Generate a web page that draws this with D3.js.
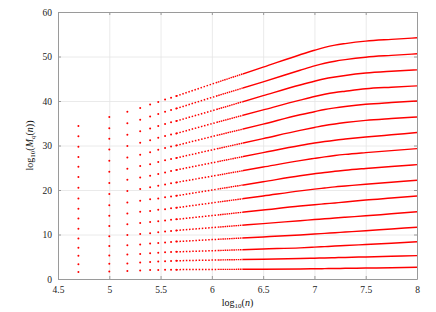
<!DOCTYPE html>
<html>
<head>
<meta charset="utf-8">
<script src="https://cdn.jsdelivr.net/npm/d3@7/dist/d3.min.js"></script>
<style>
  body { margin: 0; background: #fff; }
  text { font-family: "Liberation Serif", "DejaVu Serif", serif; }
</style>
</head>
<body>
<div id="chart-area"></div>
<script>
// tick labels
const xTicks = [4.5, 5, 5.5, 6, 6.5, 7, 7.5, 8];
const yTicks = [0, 10, 20, 30, 40, 50, 60];

// sparse samples (n), drawn as separate dots
const sampleN = [50000, 100000, 150000, 200000, 250000, 300000, 350000, 400000, 450000];

// log10(M_q(n)) at each sampled n, one row per curve (bottom to top)
const dotValues = [
    [1.6, 1.7, 1.8, 1.9, 2.0, 2.0, 2.1, 2.1, 2.1],
    [3.3, 3.4, 3.5, 3.7, 3.8, 3.95, 4.0, 4.05, 4.1],
    [5.2, 5.3, 5.5, 5.6, 5.8, 5.9, 6.0, 6.05, 6.1],
    [7.0, 7.4, 7.6, 7.75, 7.95, 8.1, 8.2, 8.3, 8.4],
    [9.1, 9.6, 9.9, 10.1, 10.3, 10.5, 10.65, 10.8, 10.9],
    [11.3, 11.9, 12.3, 12.6, 12.8, 13.0, 13.15, 13.3, 13.4],
    [13.6, 14.2, 14.7, 15.1, 15.3, 15.55, 15.7, 15.9, 16.0],
    [15.8, 16.6, 17.2, 17.6, 17.9, 18.1, 18.35, 18.55, 18.7],
    [18.1, 19.1, 19.8, 20.2, 20.6, 20.95, 21.25, 21.5, 21.7],
    [20.5, 21.6, 22.3, 22.8, 23.2, 23.6, 23.95, 24.25, 24.5],
    [22.9, 24.1, 24.8, 25.4, 25.8, 26.3, 26.7, 26.95, 27.2],
    [25.2, 26.6, 27.3, 27.9, 28.5, 29.05, 29.45, 29.75, 30.0],
    [27.4, 29.1, 29.9, 30.6, 31.2, 31.75, 32.15, 32.45, 32.7],
    [29.7, 31.5, 32.4, 33.2, 33.8, 34.4, 34.85, 35.2, 35.5],
    [32.1, 33.9, 35.0, 35.8, 36.5, 37.1, 37.6, 38.0, 38.3],
    [34.4, 36.4, 37.6, 38.4, 39.2, 39.8, 40.35, 40.75, 41.1]
];

// dense part, read at these log10(n) positions
const lineX = [5.653, 6.0, 6.5, 6.86, 7.0, 7.1, 7.2, 7.3, 7.5, 7.75, 8.0];
const lineValues = [
    [2.1, 2.15, 2.2, 2.25, 2.3, 2.33, 2.36, 2.4, 2.45, 2.55, 2.65],
    [4.1, 4.25, 4.45, 4.6, 4.68, 4.73, 4.79, 4.85, 4.96, 5.1, 5.25],
    [6.1, 6.35, 6.75, 7.0, 7.16, 7.28, 7.4, 7.51, 7.75, 8.05, 8.35],
    [8.4, 8.85, 9.45, 9.9, 10.1, 10.25, 10.4, 10.55, 10.85, 11.25, 11.65],
    [10.9, 11.55, 12.45, 13.1, 13.35, 13.52, 13.7, 13.87, 14.2, 14.65, 15.1],
    [13.4, 14.25, 15.5, 16.4, 16.7, 16.9, 17.1, 17.3, 17.75, 18.2, 18.65],
    [16.0, 17.1, 18.65, 19.8, 20.2, 20.45, 20.7, 20.9, 21.3, 21.75, 22.2],
    [18.7, 20.0, 21.85, 23.2, 23.65, 23.95, 24.2, 24.45, 24.85, 25.3, 25.7],
    [21.7, 23.1, 25.15, 26.6, 27.1, 27.45, 27.75, 28.0, 28.4, 28.85, 29.3],
    [24.5, 26.1, 28.4, 30.0, 30.55, 30.9, 31.2, 31.45, 31.9, 32.4, 32.9],
    [27.2, 29.0, 31.55, 33.4, 34.05, 34.5, 34.85, 35.15, 35.65, 36.05, 36.4],
    [30.0, 32.0, 34.8, 36.9, 37.6, 38.1, 38.45, 38.75, 39.25, 39.65, 40.0],
    [32.7, 34.9, 38.0, 40.2, 41.0, 41.5, 41.9, 42.2, 42.75, 43.1, 43.4],
    [35.5, 37.8, 41.2, 43.6, 44.45, 45.0, 45.4, 45.75, 46.3, 46.7, 47.0],
    [38.3, 40.8, 44.3, 46.9, 47.9, 48.5, 48.95, 49.3, 49.85, 50.25, 50.6],
    [41.1, 43.8, 47.6, 50.4, 51.4, 52.05, 52.55, 52.9, 53.45, 53.85, 54.2]
];

const margin = {left: 58, right: 19, top: 12, bottom: 33};
const width = 359;
const height = 267;

const x = d3.scaleLinear().domain([4.5, 8]).range([0, width]);
const y = d3.scaleLinear().domain([0, 60]).range([height, 0]);

const svg = d3.select("#chart-area")
    .append("svg")
        .attr("width", width + margin.left + margin.right)
        .attr("height", height + margin.top + margin.bottom);
const g = svg.append("g")
    .attr("transform", "translate(" + margin.left + ", " + margin.top + ")");

// grid
g.append("g")
    .attr("class", "grid")
    .attr("transform", "translate(0, " + height + ")")
    .call(d3.axisBottom(x).tickValues(xTicks).tickSize(-height).tickFormat(""));
g.append("g")
    .attr("class", "grid")
    .call(d3.axisLeft(y).tickValues(yTicks).tickSize(-width).tickFormat(""));
g.selectAll(".grid line").attr("stroke", "#e4e4e4").attr("stroke-width", 0.8);
g.selectAll(".grid .domain").remove();

// frame with inward ticks
const fmt = (d) => String(d);
g.append("g").attr("class", "frame")
    .attr("transform", "translate(0, " + height + ")")
    .call(d3.axisBottom(x).tickValues(xTicks).tickSize(-3).tickSizeOuter(0).tickPadding(7).tickFormat(fmt));
g.append("g").attr("class", "frame")
    .call(d3.axisLeft(y).tickValues(yTicks).tickSize(-3).tickSizeOuter(0).tickPadding(6).tickFormat(fmt));
g.append("g").attr("class", "frame")
    .call(d3.axisTop(x).tickValues(xTicks).tickSize(-3).tickSizeOuter(0).tickFormat(""));
g.append("g").attr("class", "frame")
    .attr("transform", "translate(" + width + ", 0)")
    .call(d3.axisRight(y).tickValues(yTicks).tickSize(-3).tickSizeOuter(0).tickFormat(""));
g.selectAll(".frame").attr("font-family", null);
g.selectAll(".frame .domain").attr("stroke", "#9a9a9a");
g.selectAll(".frame line").attr("stroke", "#9a9a9a");
g.selectAll(".frame text")
    .style("font-family", "'Liberation Serif', serif")
    .attr("font-size", "9.5px")
    .attr("fill", "#222");

// clip regions: dotted look before ~6.05, denser up to 6.3, solid after
const defs = svg.append("defs");
const clips = [
    {id: "clip-a", from: 5.6, to: 6.05, dash: "1.5,1.7", w: 1.5},
    {id: "clip-b", from: 6.05, to: 6.3, dash: "1.5,0.7", w: 1.4},
    {id: "clip-c", from: 6.3, to: 8.01, dash: null, w: 1.45}
];
clips.forEach((c) => {
    defs.append("clipPath").attr("id", c.id)
        .append("rect")
            .attr("x", x(c.from))
            .attr("y", -5)
            .attr("width", x(c.to) - x(c.from))
            .attr("height", height + 10);
});

const line = d3.line()
    .x((d, i) => x(lineX[i]))
    .y((d) => y(d))
    .curve(d3.curveMonotoneX);

clips.forEach((c) => {
    g.append("g").attr("clip-path", "url(#" + c.id + ")")
        .selectAll("path").data(lineValues).enter().append("path")
            .attr("d", line)
            .attr("fill", "none")
            .attr("stroke", "#ff0000")
            .attr("stroke-width", c.w)
            .attr("stroke-dasharray", c.dash);
});

// sparse dots
const dots = [];
dotValues.forEach((row) => {
    row.forEach((v, i) => dots.push({n: sampleN[i], v: v}));
});
g.append("g").selectAll("circle").data(dots).enter().append("circle")
    .attr("cx", (d) => x(Math.log10(d.n)))
    .attr("cy", (d) => y(d.v))
    .attr("r", 1)
    .attr("fill", "#ff0000");

// axis labels
const xl = g.append("text")
    .attr("x", width / 2)
    .attr("y", height + 27)
    .attr("text-anchor", "middle")
    .attr("font-size", "10px")
    .attr("fill", "#111");
xl.append("tspan").text("log");
xl.append("tspan").attr("font-size", "7px").attr("dy", 2).text("10");
xl.append("tspan").attr("dy", -2).text("(");
xl.append("tspan").attr("font-style", "italic").text("n");
xl.append("tspan").text(")");

const yl = g.append("text")
    .attr("transform", "translate(-25, " + (height / 2) + ") rotate(-90)")
    .attr("text-anchor", "middle")
    .attr("font-size", "10px")
    .attr("fill", "#111");
yl.append("tspan").text("log");
yl.append("tspan").attr("font-size", "7px").attr("dy", 2).text("10");
yl.append("tspan").attr("dy", -2).text("(");
yl.append("tspan").attr("font-style", "italic").text("M");
yl.append("tspan").attr("font-size", "7px").attr("font-style", "italic").attr("dy", 2).text("q");
yl.append("tspan").attr("dy", -2).text("(");
yl.append("tspan").attr("font-style", "italic").text("n");
yl.append("tspan").text("))");
</script>
</body>
</html>
